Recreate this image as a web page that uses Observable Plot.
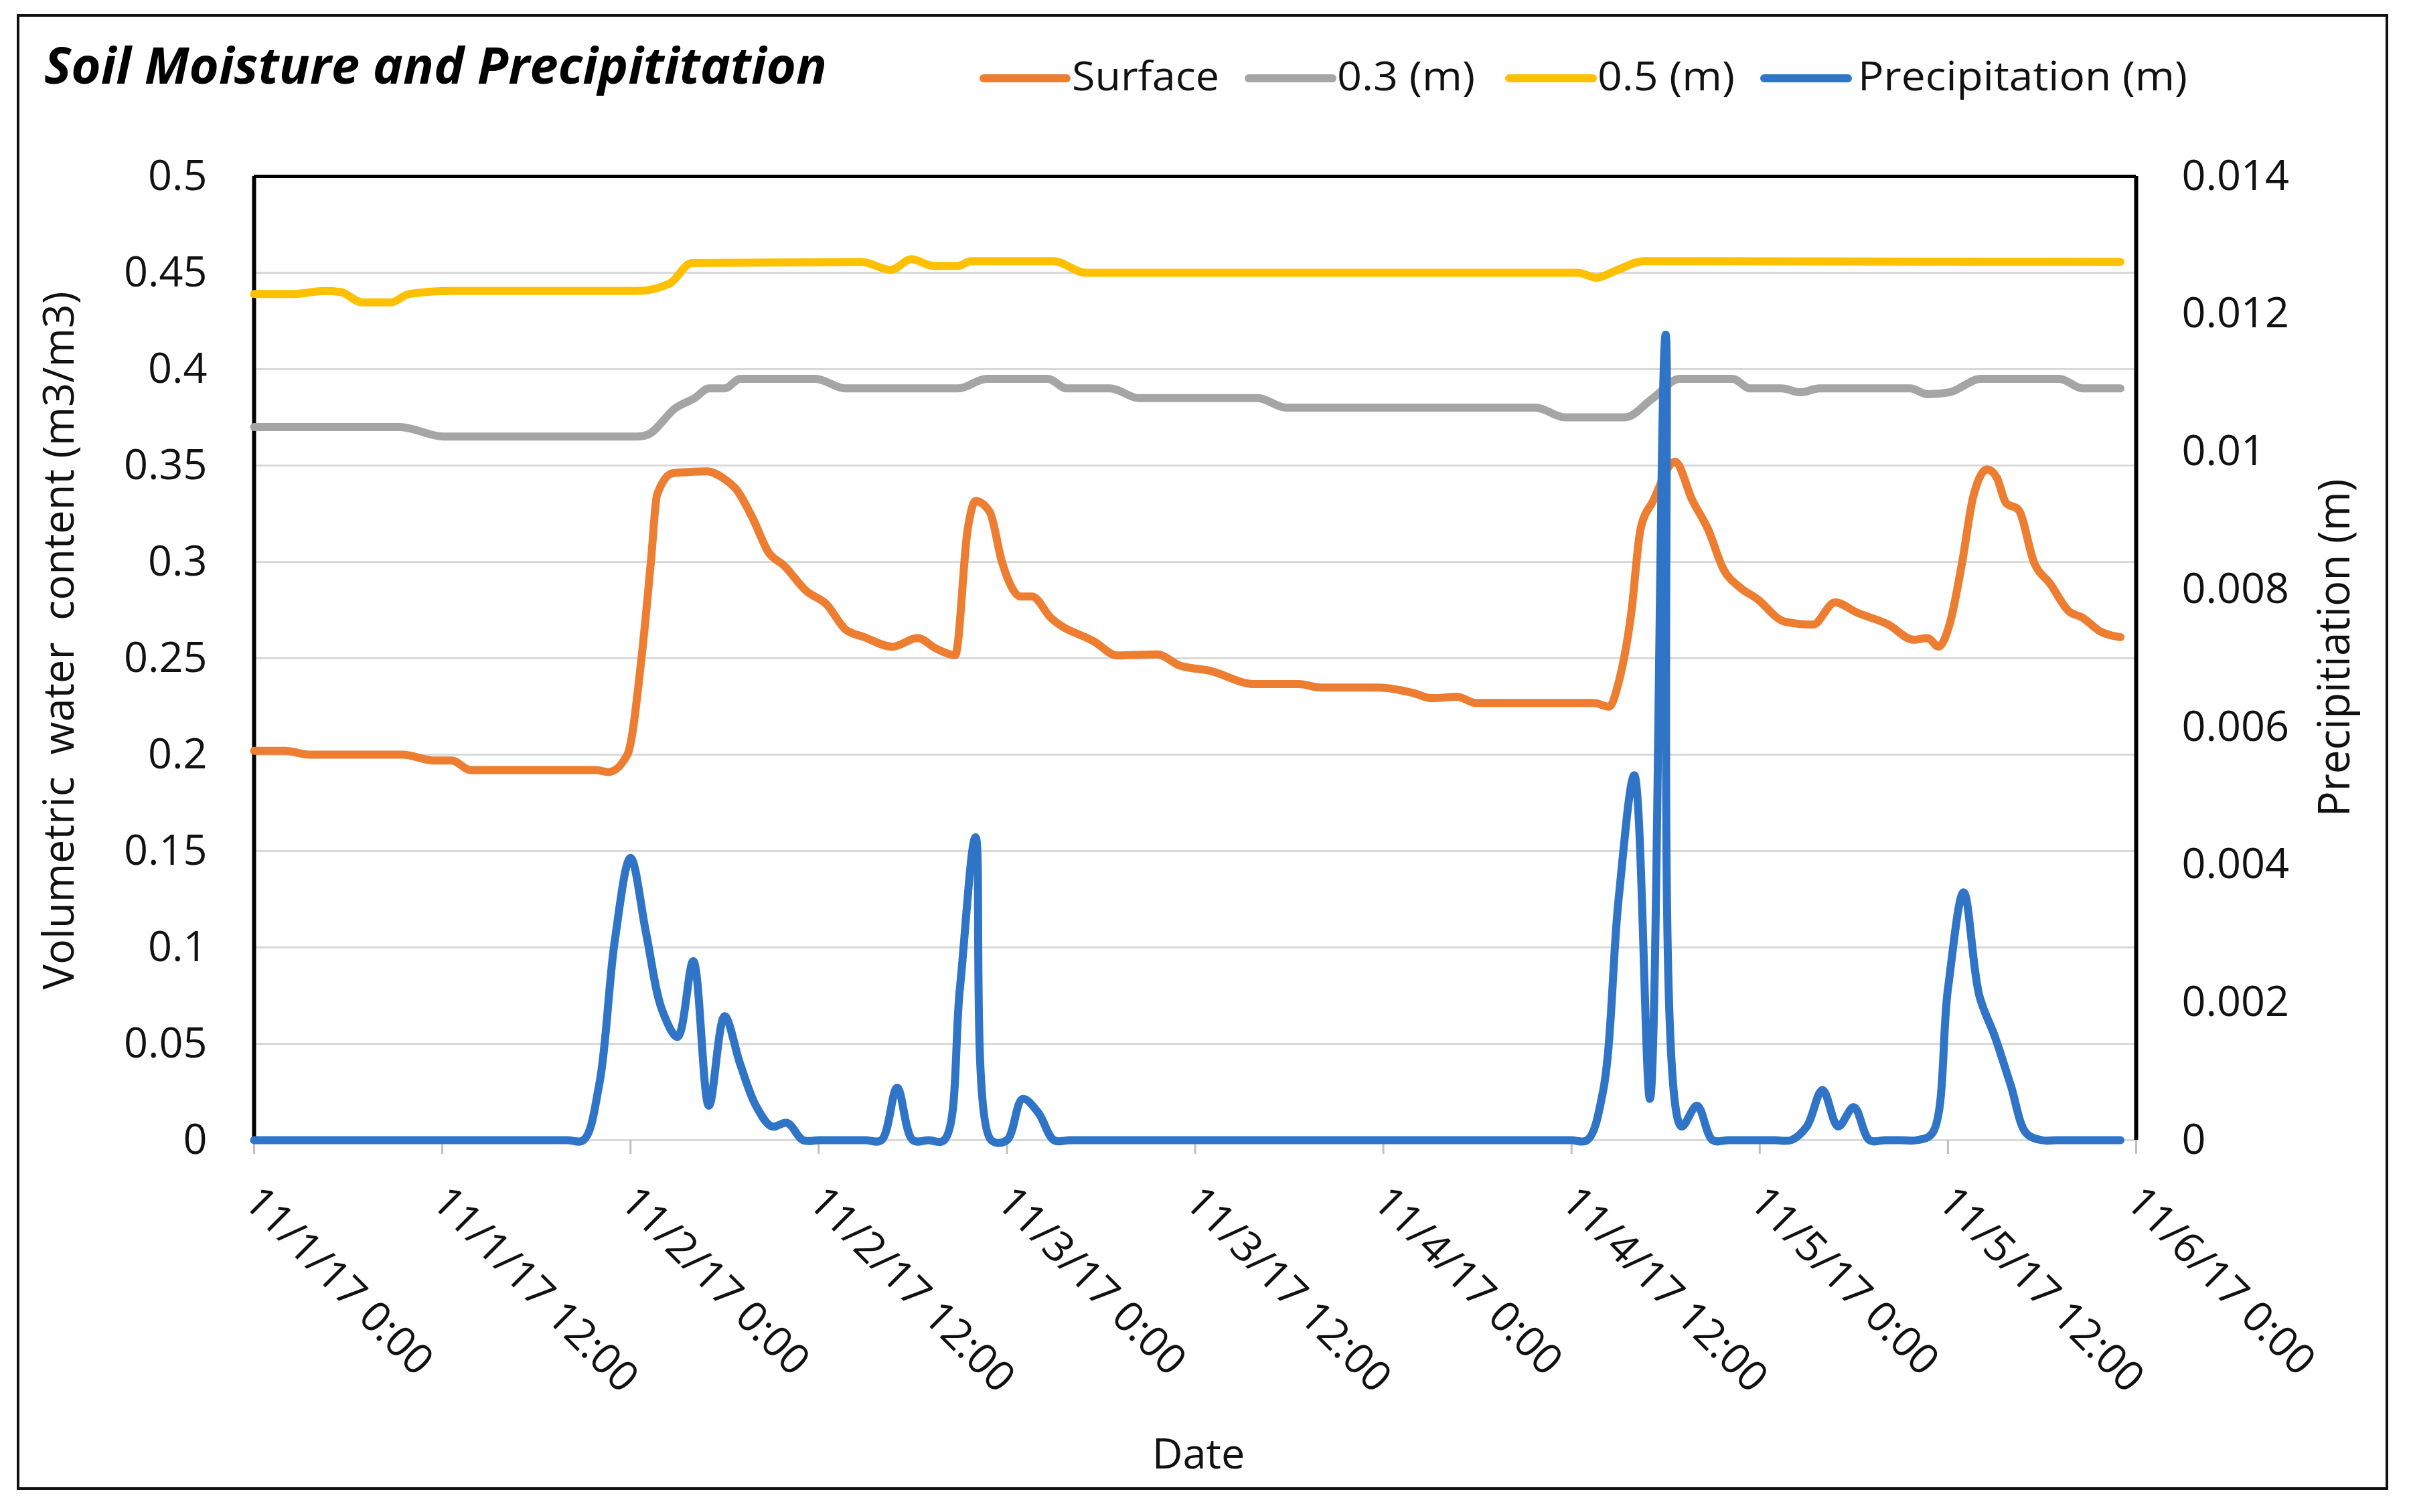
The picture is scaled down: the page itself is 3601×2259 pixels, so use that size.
<!DOCTYPE html>
<html>
<head>
<meta charset="utf-8">
<script src="https://cdn.jsdelivr.net/npm/d3@7"></script>
<script src="https://cdn.jsdelivr.net/npm/@observablehq/plot@0.6"></script>
<style>
  html, body { margin: 0; padding: 0; background: #fff; }
  #wrap { position: relative; width: 3601px; height: 2259px; overflow: hidden; background: #fff; }
  #wrap svg { position: absolute; left: 0; top: 0; }
</style>
</head>
<body>
<div id="wrap"></div>
<script>
// ---------- DATA ----------
const startUTC = Date.UTC(2017, 10, 1, 0, 0);
const endUTC = Date.UTC(2017, 10, 6, 0, 0);

// Surface soil moisture: hours since 11/1/17 0:00, volumetric water content
const surfaceHours = [0,2,3.5,9.5,11.4,12.6,13.8,21.8,22.6,23.8,24.7,25.3,25.7,26.7,28.9,29.8,30.8,31.8,32.8,33.8,35.2,36.5,37.7,38.9,40.7,42.3,43.5,44.7,45.5,46,46.9,47.7,48.9,49.6,50.8,53.6,55,57.6,59,60.9,63.8,66.6,68,71.7,73.9,75.1,76.7,77.9,85.4,86.4,87,87.8,88.4,89.2,90.6,91.7,92.7,93.7,94.7,95.8,97.6,99.4,100.8,102.2,104.2,105.8,106.7,107.4,108.1,108.9,109.6,110.5,111.1,111.7,112.5,113.5,114.5,115.7,116.6,117.7,119];
const surfaceValues = [0.202,0.202,0.200,0.200,0.197,0.197,0.192,0.192,0.191,0.200,0.250,0.300,0.335,0.346,0.347,0.344,0.337,0.3225,0.305,0.298,0.285,0.278,0.265,0.261,0.256,0.2605,0.255,0.2516,0.317,0.3316,0.326,0.2995,0.282,0.282,0.271,0.2585,0.2515,0.252,0.2463,0.2436,0.2366,0.2366,0.2348,0.2348,0.232,0.2293,0.230,0.2268,0.2268,0.2249,0.2374,0.273,0.317,0.3316,0.352,0.332,0.317,0.296,0.287,0.281,0.269,0.2675,0.279,0.2737,0.2675,0.2596,0.2605,0.256,0.2675,0.2995,0.3334,0.348,0.344,0.3306,0.327,0.2995,0.2889,0.2745,0.271,0.264,0.261];

// 0.3 m depth
const d03Hours = [0,9.3,12.1,24.5,25.1,26.9,28.1,29,30,31,35.8,37.7,44.9,46.7,50.6,51.8,54.6,56.4,64,65.8,81.7,83.6,87.4,89.2,90.9,94.25,95.4,97.4,98.6,99.8,105.6,106.7,108.1,110.1,115.1,116.6,119];
const d03Values = [0.370,0.370,0.365,0.365,0.366,0.380,0.385,0.390,0.390,0.395,0.395,0.390,0.390,0.395,0.395,0.390,0.390,0.385,0.385,0.380,0.380,0.375,0.375,0.385,0.395,0.395,0.390,0.390,0.388,0.390,0.390,0.387,0.388,0.395,0.395,0.390,0.390];

// 0.5 m depth
const d05Hours = [0,2.5,4.5,5.5,6.9,8.7,9.9,12.6,24.4,26.5,27.9,38.7,40.6,41.9,43.3,44.9,45.7,51,53,84.4,85.6,86.8,88.6,119];
const d05Values = [0.439,0.439,0.4405,0.440,0.4346,0.4346,0.439,0.4405,0.4405,0.4444,0.455,0.4556,0.4515,0.457,0.4536,0.4536,0.456,0.456,0.450,0.450,0.4474,0.451,0.456,0.4556];

// Hourly precipitation (m), hour 0 .. 119
const precipValues = [
  0,0,0,0,0,0,0,0,0,0,
  0,0,0,0,0,0,0,0,0,0,
  0,0,0.0008,0.0029,0.0041,0.0030,0.0019,0.0015,0.0026,0.0005,
  0.0018,0.0011,0.0005,0.0002,0.00025,0,0,0,0,0,
  0,0.00076,0,0,0,0.0022,0.0044,0,0,0.0006,
  0.0004,0,0,0,0,0,0,0,0,0,
  0,0,0,0,0,0,0,0,0,0,
  0,0,0,0,0,0,0,0,0,0,
  0,0,0,0,0,0,0.0007,0.0035,0.0053,0.0006,
  0.0117,0.0002,0.0005,0,0,0,0,0,0,0.0002,
  0.00073,0.0002,0.00048,0,0,0,0,0.0001,0.0022,0.0036,
  0.0021,0.0015,0.0008,0.0001,0,0,0,0,0,0
];

// Axis ticks and labels
const xTickHours = [0,12,24,36,48,60,72,84,96,108,120];
const xTickLabels = ["11/1/17 0:00","11/1/17 12:00","11/2/17 0:00","11/2/17 12:00","11/3/17 0:00","11/3/17 12:00","11/4/17 0:00","11/4/17 12:00","11/5/17 0:00","11/5/17 12:00","11/6/17 0:00"];
const leftTicks = [0,0.05,0.1,0.15,0.2,0.25,0.3,0.35,0.4,0.45,0.5];
const leftTickLabels = ["0","0.05","0.1","0.15","0.2","0.25","0.3","0.35","0.4","0.45","0.5"];
const rightTicks = [0,0.002,0.004,0.006,0.008,0.01,0.012,0.014];
const rightTickLabels = ["0","0.002","0.004","0.006","0.008","0.01","0.012","0.014"];

const seriesNames = ["Surface","0.3 (m)","0.5 (m)","Precipitation (m)"];
const seriesColors = ["#ED7D31","#A5A5A5","#FFC000","#2F74C6"];

// ---------- BUILD ----------
const toDate = h => new Date(startUTC + h * 3600e3);
const ratio = 0.5 / 0.014; // secondary axis -> primary axis
const surfaceRows = surfaceHours.map((h, i) => ({date: toDate(h), v: surfaceValues[i]}));
const d03Rows = d03Hours.map((h, i) => ({date: toDate(h), v: d03Values[i]}));
const d05Rows = d05Hours.map((h, i) => ({date: toDate(h), v: d05Values[i]}));
const precipRows = precipValues.map((p, i) => ({date: toDate(i), p}));
const xTickDates = xTickHours.map(toDate);
const rightTickPos = rightTicks.map(t => t * ratio);

const FONT = "'Open Sans', 'Noto Sans', sans-serif";
const LW = 12;

const chart = Plot.plot({
  width: 3601,
  height: 2259,
  marginLeft: 379,
  marginRight: 411,
  marginTop: 263,
  marginBottom: 556,
  style: {fontFamily: FONT, fontSize: "63px", background: "transparent", color: "#111"},
  x: {type: "utc", domain: [new Date(startUTC), new Date(endUTC)], label: null, axis: null},
  y: {domain: [0, 0.5], label: null, axis: null},
  marks: [
    Plot.gridY(leftTicks.slice(0, -1), {stroke: "#d9d9d9", strokeOpacity: 1, strokeWidth: 3}),
    Plot.axisX(xTickDates, {tickSize: 21, stroke: "#bfbfbf", strokeWidth: 3, tickFormat: () => ""}),
    Plot.text(xTickDates, {
      x: d => d, frameAnchor: "bottom", dx: -4, dy: 81, rotate: 45,
      textAnchor: "start", lineAnchor: "middle",
      text: (d, i) => xTickLabels[i], fontSize: 63, fill: "#111"
    }),
    Plot.axisY(leftTicks, {
      anchor: "left", tickSize: 0, tickPadding: 70, fontSize: 63, fill: "#111",
      tickFormat: d => leftTickLabels[leftTicks.indexOf(d)]
    }),
    Plot.axisY(rightTickPos, {
      anchor: "right", tickSize: 0, tickPadding: 68, fontSize: 63, fill: "#111",
      tickFormat: d => rightTickLabels[Math.round(d / ratio / 0.002)]
    }),
    Plot.ruleY([0.5], {stroke: "#000", strokeWidth: 5}),
    Plot.ruleX([new Date(startUTC)], {stroke: "#000", strokeWidth: 6}),
    Plot.ruleX([new Date(endUTC)], {stroke: "#000", strokeWidth: 6}),
    Plot.line(surfaceRows, {x: "date", y: "v", stroke: seriesColors[0], strokeWidth: LW, curve: "monotone-x"}),
    Plot.line(d03Rows, {x: "date", y: "v", stroke: seriesColors[1], strokeWidth: LW, curve: "monotone-x"}),
    Plot.line(d05Rows, {x: "date", y: "v", stroke: seriesColors[2], strokeWidth: LW, curve: "monotone-x"}),
    Plot.line(precipRows, {x: "date", y: d => d.p * ratio, stroke: seriesColors[3], strokeWidth: LW, curve: "catmull-rom"})
  ]
});

const wrap = document.getElementById("wrap");
wrap.appendChild(chart);

// ---------- Overlay: border, title, legend, axis titles ----------
const ov = d3.select(wrap).append("svg")
  .attr("width", 3601).attr("height", 2259)
  .style("pointer-events", "none")
  .style("font-family", FONT);

ov.append("rect")
  .attr("x", 27).attr("y", 23).attr("width", 3538).attr("height", 2201)
  .attr("fill", "none").attr("stroke", "#111").attr("stroke-width", 4);

ov.append("text")
  .attr("x", 66).attr("y", 125)
  .attr("font-size", 76).attr("font-weight", "bold").attr("font-style", "italic")
  .attr("textLength", 1169).attr("lengthAdjust", "spacingAndGlyphs")
  .attr("fill", "#000")
  .text("Soil Moisture and Precipititation");

const legendLayout = [
  {x1: 1469, x2: 1593, tx: 1601, tw: 220},
  {x1: 1865, x2: 1990, tx: 1997, tw: 206},
  {x1: 2254, x2: 2379, tx: 2386, tw: 205},
  {x1: 2635, x2: 2760, tx: 2775, tw: 492}
];
legendLayout.forEach((L, i) => {
  ov.append("line")
    .attr("x1", L.x1).attr("x2", L.x2).attr("y1", 117).attr("y2", 117)
    .attr("stroke", seriesColors[i]).attr("stroke-width", LW).attr("stroke-linecap", "round");
  ov.append("text")
    .attr("x", L.tx).attr("y", 135)
    .attr("font-size", 60).attr("fill", "#111")
    .attr("textLength", L.tw).attr("lengthAdjust", "spacingAndGlyphs")
    .text(seriesNames[i]);
});

ov.append("text")
  .attr("transform", "translate(110,957) rotate(-90)")
  .attr("text-anchor", "middle").attr("font-size", 64).attr("fill", "#111")
  .style("white-space", "pre")
  .attr("textLength", 1043).attr("lengthAdjust", "spacingAndGlyphs")
  .text("Volumetric  water  content (m3/m3)");

ov.append("text")
  .attr("transform", "translate(3509,968) rotate(-90)")
  .attr("text-anchor", "middle").attr("font-size", 66).attr("fill", "#111")
  .attr("textLength", 505).attr("lengthAdjust", "spacingAndGlyphs")
  .text("Precipitiation (m)");

ov.append("text")
  .attr("x", 1790).attr("y", 2194)
  .attr("text-anchor", "middle").attr("font-size", 63).attr("fill", "#111")
  .text("Date");
</script>
</body>
</html>
